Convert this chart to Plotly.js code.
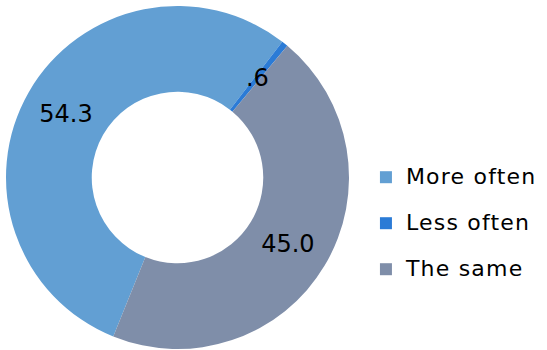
<!DOCTYPE html>
<html>
<head>
<meta charset="utf-8">
<script src="https://cdn.plot.ly/plotly-3.0.1.min.js"></script>
<style>html,body{margin:0;padding:0;background:#fff;}#chart{width:547px;height:350px;}</style>
</head>
<body>
<div id="chart"></div>
<script>
var categories = ["More often", "Less often", "The same"];
var values = [54.3, 0.6, 45.0];
var valueLabels = ["54.3", ".6", "45.0"];
var colors = ["#629fd3", "#2b7bd6", "#7f8ea9"];

// small slices whose label Excel draws at mid-ring, overflowing the slice
var smallSlice = values.map(function (v) { return v < 5; });

var legendLabels = categories.map(function (c) {
  return '<span style="font-size:22px;letter-spacing:1.2px">' + c + '</span><br>&nbsp;';
});

var trace = {
  type: "pie",
  labels: legendLabels,
  values: values,
  text: valueLabels.map(function (t, i) { return smallSlice[i] ? "" : t; }),
  textinfo: "text",
  textposition: "inside",
  insidetextorientation: "horizontal",
  sort: false,
  direction: "clockwise",
  rotation: 202,
  hole: 0.5,
  marker: { colors: colors, line: { width: 0 } },
  textfont: { family: "DejaVu Sans", size: 24, color: "#000" },
  domain: { x: [6 / 547, 349 / 547], y: [1 / 350, 344 / 350] },
  hoverinfo: "none"
};

// transparent copy of the same ring, used only to place the small-slice label mid-ring
var labelTrace = {
  type: "pie",
  labels: legendLabels,
  values: values,
  text: valueLabels.map(function (t, i) { return smallSlice[i] ? t : ""; }),
  textinfo: "text",
  textposition: "inside",
  insidetextorientation: "horizontal",
  sort: false,
  direction: "clockwise",
  rotation: 202,
  hole: 0,
  showlegend: false,
  marker: { colors: ["rgba(0,0,0,0)", "rgba(0,0,0,0)", "rgba(0,0,0,0)"], line: { width: 0 } },
  textfont: { family: "DejaVu Sans", size: 24, color: "#000" },
  domain: { x: [(177.5 - 130) / 547, (177.5 + 130) / 547], y: [(172.5 - 130) / 350, (172.5 + 130) / 350] },
  hoverinfo: "none"
};

var layout = {
  width: 547,
  height: 350,
  margin: { l: 0, r: 0, t: 0, b: 0, pad: 0, autoexpand: false },
  paper_bgcolor: "#fff",
  showlegend: true,
  uniformtext: { mode: "show", minsize: 24 },
  legend: {
    x: 0.669, xanchor: "left",
    y: 0.543, yanchor: "top",
    valign: "top",
    font: { family: "DejaVu Sans", size: 16.54, color: "#000" },
    bgcolor: "rgba(0,0,0,0)",
    borderwidth: 0
  },
  font: { family: "DejaVu Sans", color: "#000" }
};

Plotly.newPlot("chart", [trace, labelTrace], layout, { staticPlot: true, displayModeBar: false });
</script>
</body>
</html>
